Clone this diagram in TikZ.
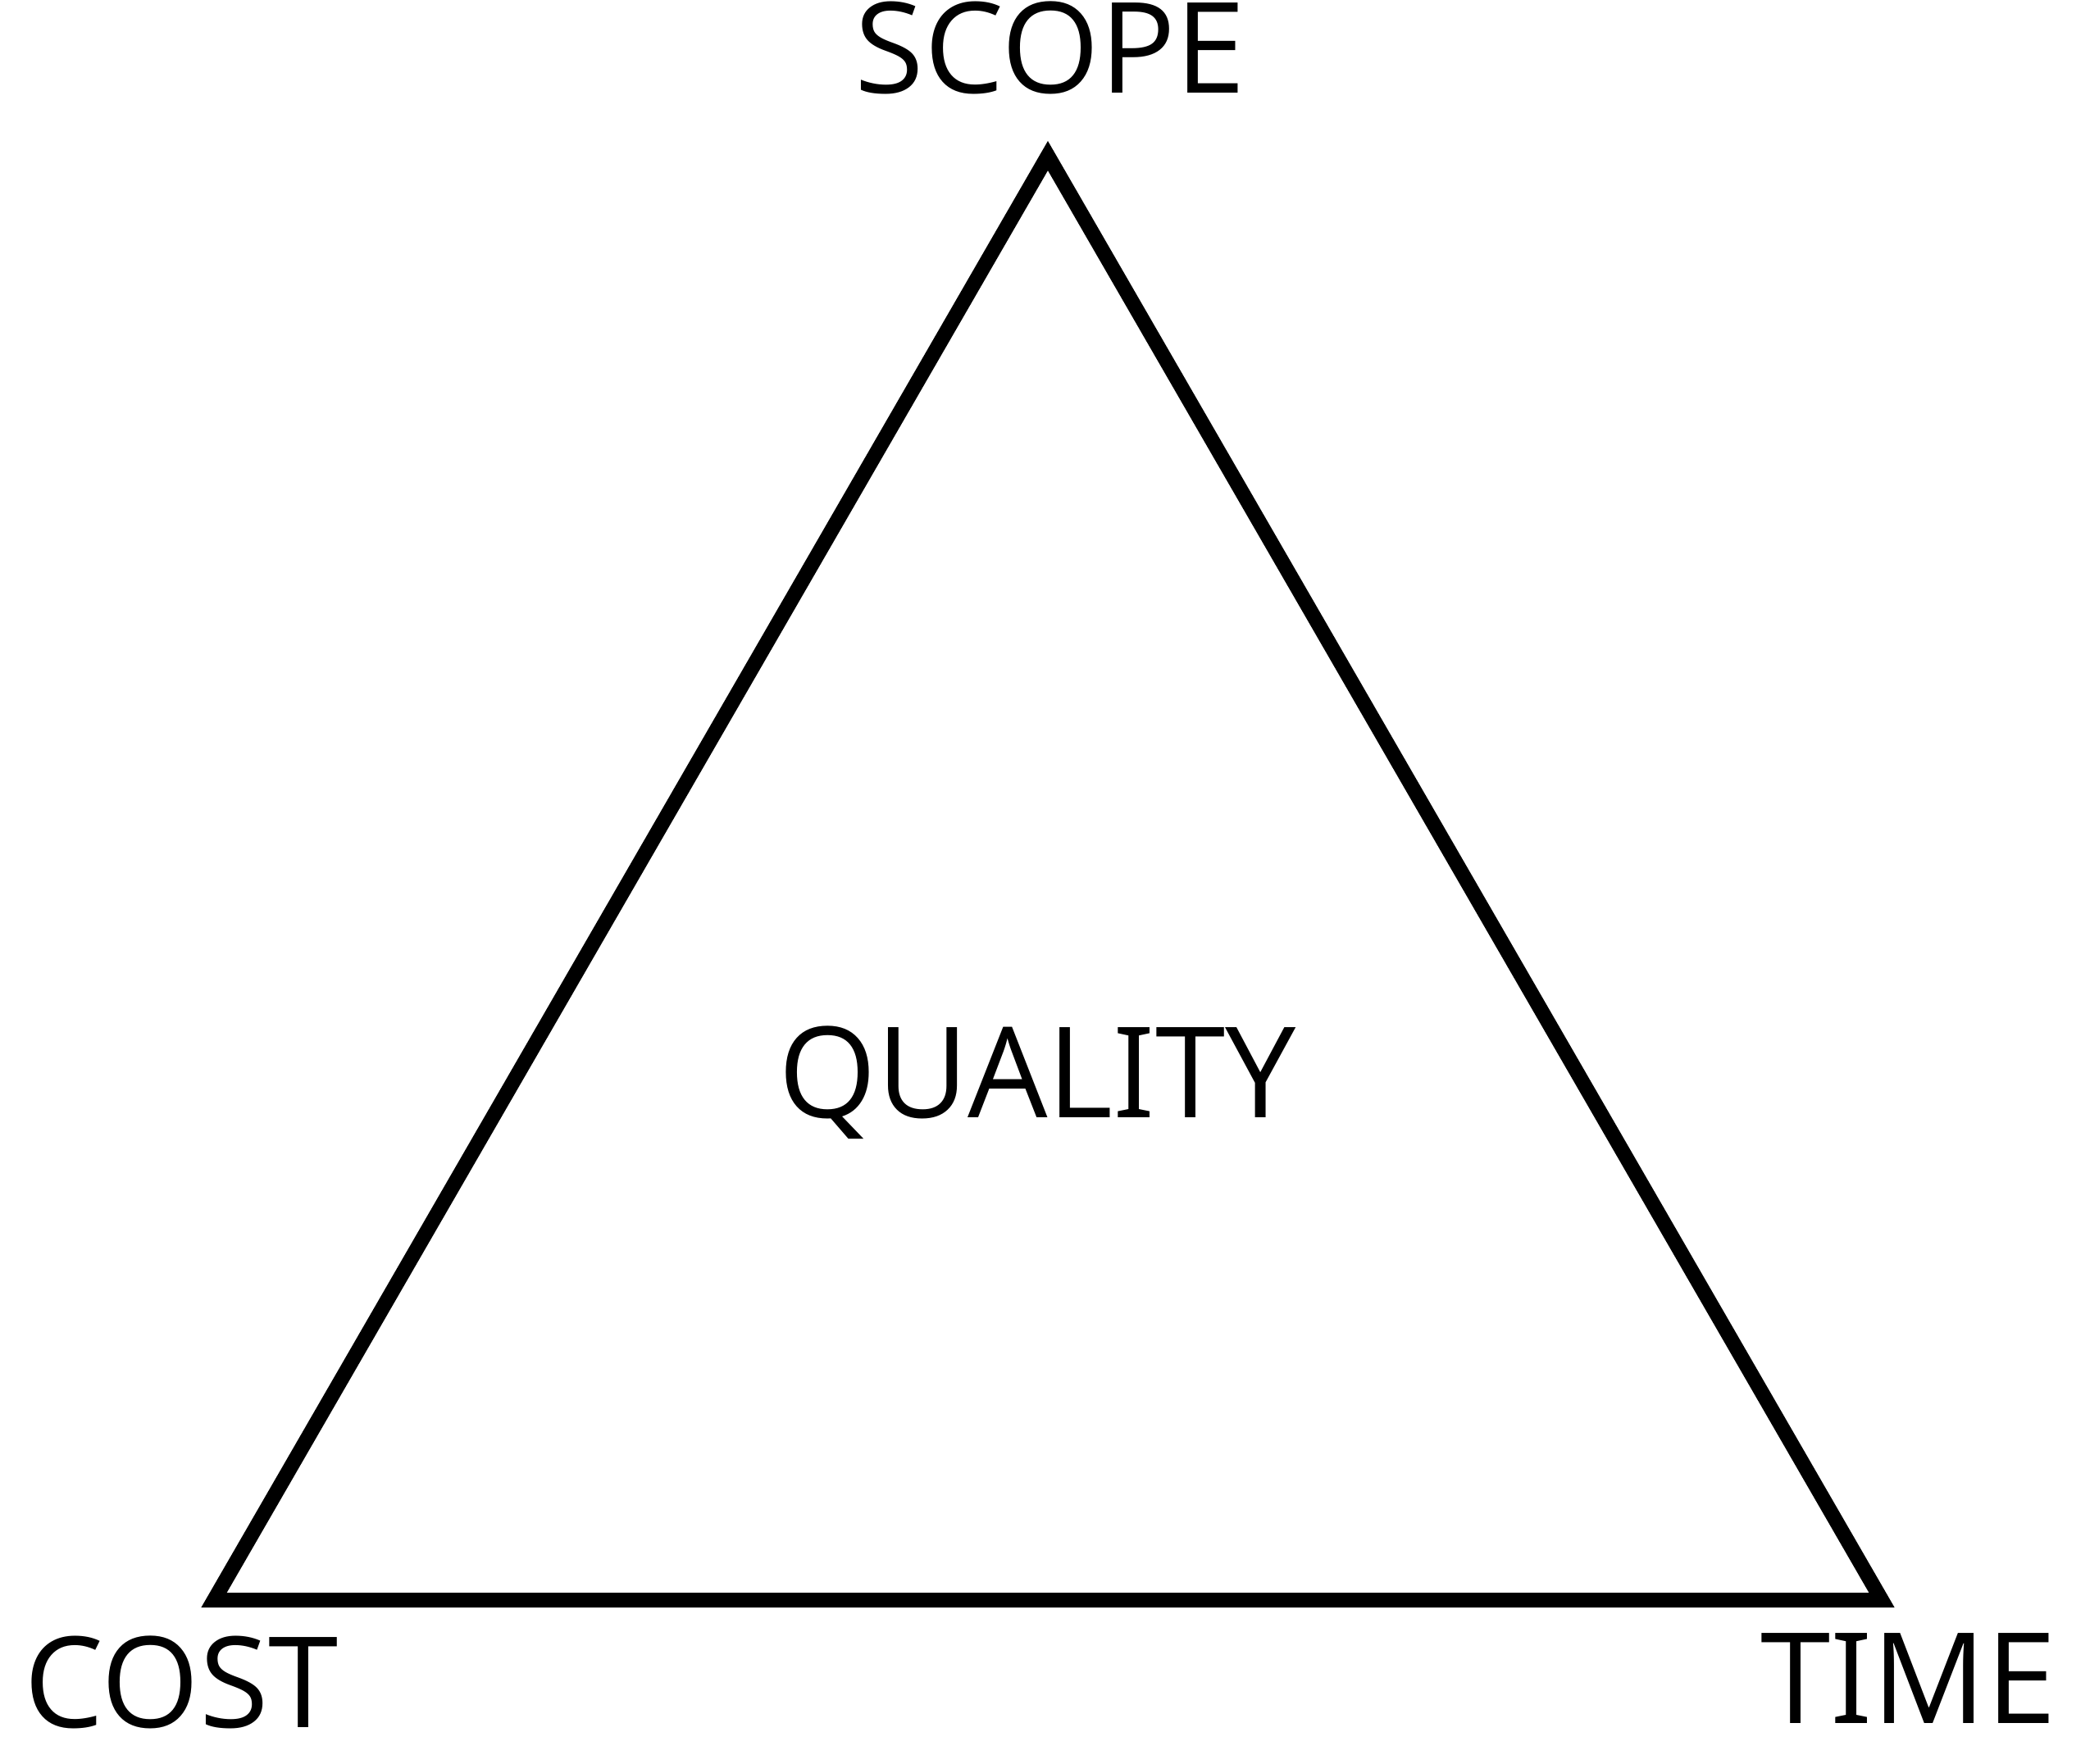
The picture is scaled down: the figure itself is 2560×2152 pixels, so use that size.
\documentclass[tikz,border=0pt]{standalone}
\usepackage{fontspec}
\setmainfont{Open Sans}
\newcommand{\serifI}{{\addfontfeature{RawFeature=+salt}I}}
\begin{document}
\begin{tikzpicture}[x=1pt,y=-1pt,
  lbl/.style={anchor=base,inner sep=0pt,font=\fontsize{154}{154}\selectfont},
  tri/.style={draw=black,line width=18pt,line join=miter,miter limit=10}]
\useasboundingbox (0,0) rectangle (2560,2152);
\coordinate (apex) at (1278,190);
\coordinate (bl) at (261,1952);
\coordinate (br) at (2295,1952);
\draw[tri] (apex) -- (bl) -- (br) -- cycle;
\node[lbl] (scope) at (1281,113) {SCOPE};
\node[lbl] (quality) at (1265,1363) {QUAL\serifI TY};
\node[lbl] (cost) at (221,2107) {COST};
\node[lbl] (time) at (2328,2102) {T\serifI ME};
\end{tikzpicture}
\end{document}
